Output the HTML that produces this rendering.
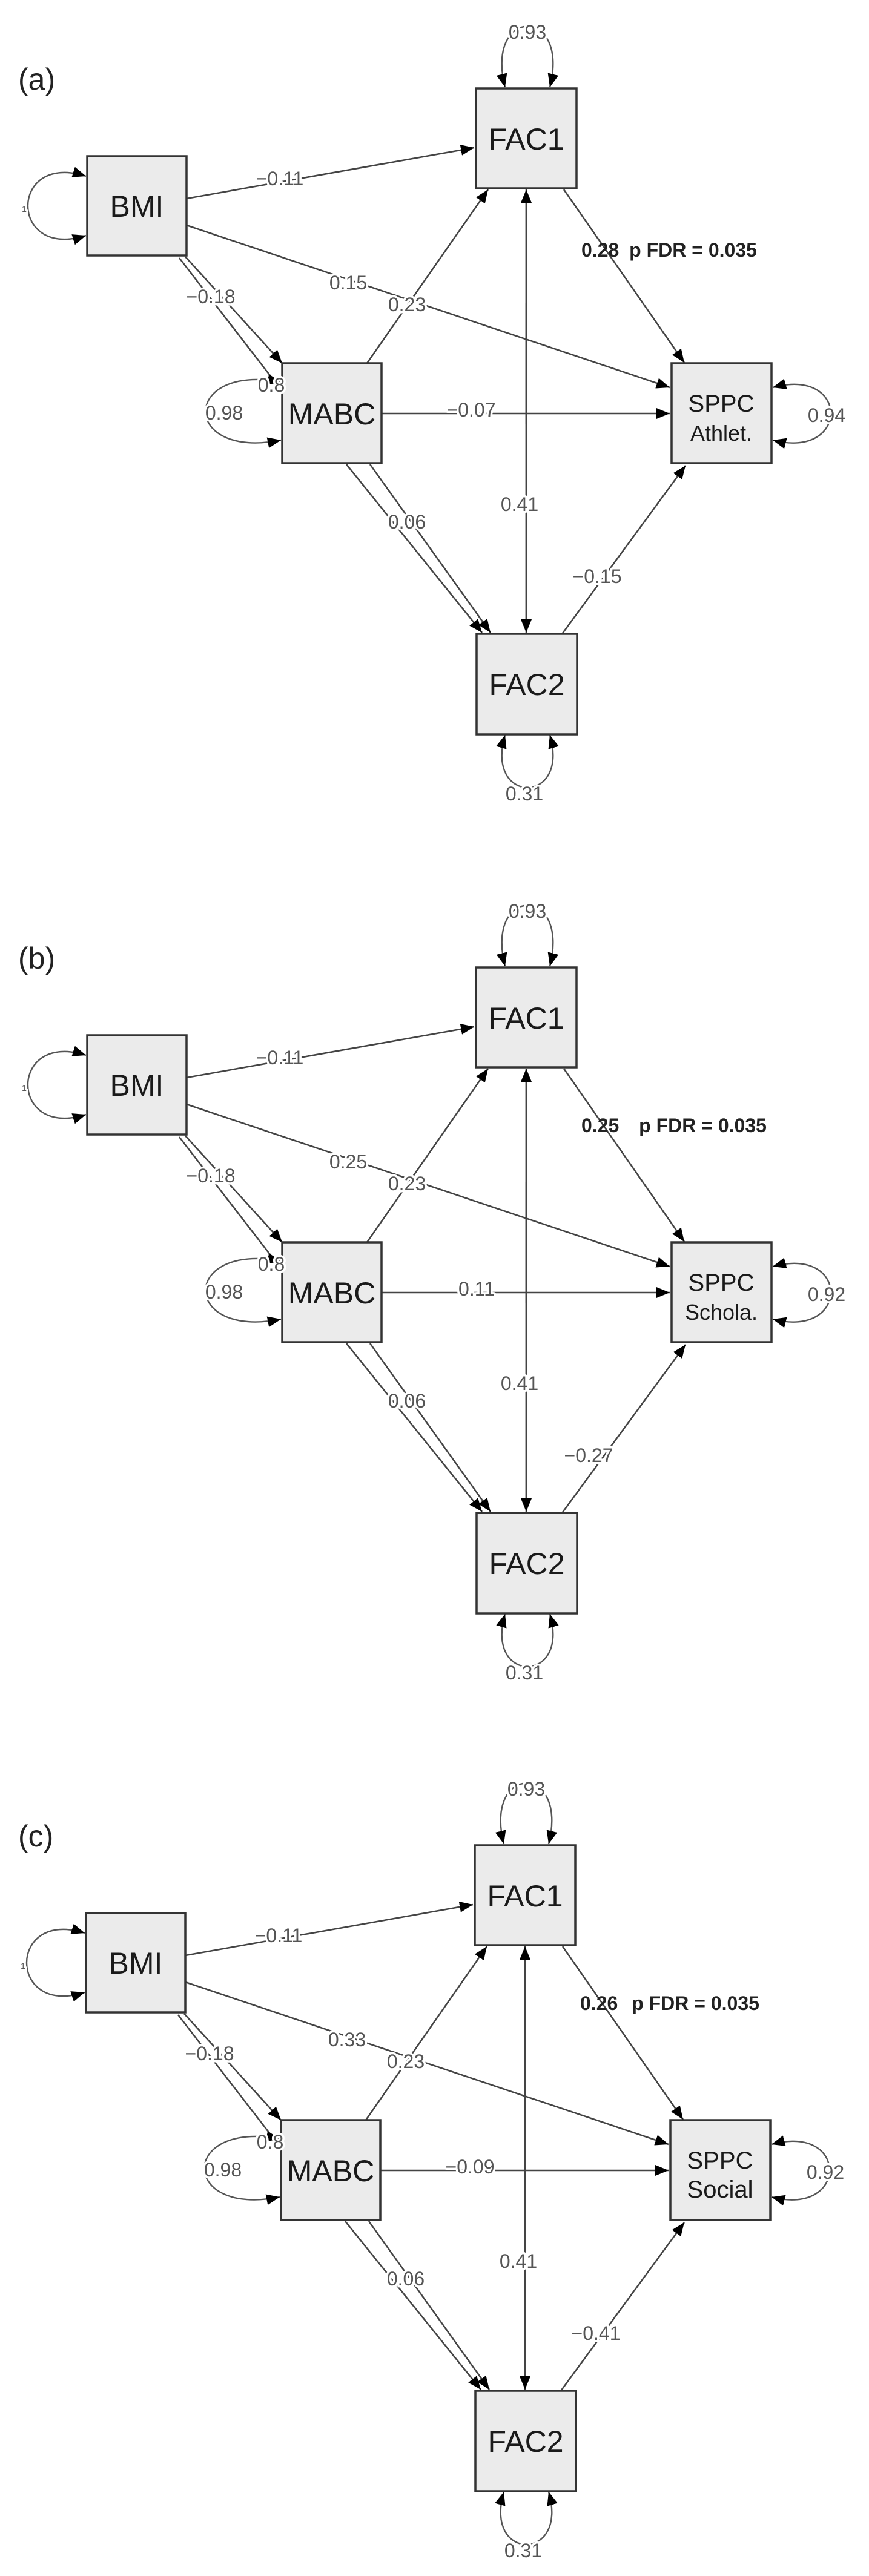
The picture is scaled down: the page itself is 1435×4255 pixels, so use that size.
<!DOCTYPE html>
<html><head><meta charset="utf-8"><style>
html,body{margin:0;padding:0;background:#fff;}
svg{display:block;}
.bx{fill:#ebebeb;stroke:#333;stroke-width:3.5;}
.ln{fill:none;stroke:#444;stroke-width:2.6;}
.ar{marker-end:url(#ah);}
.lp{fill:none;stroke:#555;stroke-width:2.4;marker-start:url(#ah2);marker-end:url(#ah);}
.nl{font-family:"Liberation Sans",Arial,sans-serif;font-size:50px;fill:#1a1a1a;text-anchor:middle;}
.nl2{font-family:"Liberation Sans",Arial,sans-serif;font-size:40px;fill:#1a1a1a;text-anchor:middle;}
.el{font-family:"Liberation Sans",Arial,sans-serif;font-size:32px;fill:#555;text-anchor:middle;stroke:#fff;stroke-width:7px;paint-order:stroke;stroke-linejoin:round;}
.bd{font-family:"Liberation Sans",Arial,sans-serif;font-size:32px;font-weight:bold;fill:#222;}
.pl{font-family:"Liberation Sans",Arial,sans-serif;font-size:50px;fill:#222;}
</style></head><body>
<svg width="1435" height="4255" viewBox="0 0 1435 4255" xmlns="http://www.w3.org/2000/svg">
<defs>
<marker id="ah" markerUnits="userSpaceOnUse" markerWidth="24" markerHeight="20" refX="22" refY="10" orient="auto"><path d="M0,1 L22,10 L0,19 Z" fill="#000"/></marker>
<marker id="ah2" markerUnits="userSpaceOnUse" markerWidth="24" markerHeight="20" refX="22" refY="10" orient="auto-start-reverse"><path d="M0,1 L22,10 L0,19 Z" fill="#000"/></marker>
<g id="base">
<!-- edges -->
<line class="ln ar" x1="308" y1="328" x2="783" y2="244"/>
<line class="ln ar" x1="308" y1="372" x2="1106" y2="640"/>
<line class="ln" x1="296" y1="426" x2="452" y2="628"/>
<line class="ln ar" x1="306" y1="424" x2="466" y2="600"/>
<line class="ln ar" x1="606" y1="600" x2="806" y2="313"/>
<line class="ln ar" x1="630" y1="683" x2="1106" y2="683"/>
<line class="ln ar" x1="572" y1="767" x2="796" y2="1045"/>
<line class="ln ar" x1="611" y1="767" x2="810" y2="1045"/>
<line class="ln" x1="869" y1="330" x2="869" y2="1025" />
<line class="ln ar" x1="869" y1="500" x2="869" y2="1045"/>
<line class="ln ar" x1="869" y1="700" x2="869" y2="313"/>
<line class="ln ar" x1="931" y1="313" x2="1130" y2="599"/>
<line class="ln ar" x1="929" y1="1046" x2="1132" y2="769"/>
<!-- loops -->
<path class="lp" d="M142,291 C14,250 14,430 142,389"/>
<path class="lp" d="M464,631 C298,600 298,760 464,727"/>
<path class="lp" d="M1276,640 C1404,605 1404,760 1276,727"/>
<path class="lp" d="M834,144 C800,10 942,10 908,144"/>
<path class="lp" d="M834,1214 C800,1330 942,1330 908,1214"/>
<!-- boxes -->
<rect class="bx" x="144" y="258" width="164" height="164"/>
<rect class="bx" x="786" y="146" width="166" height="165"/>
<rect class="bx" x="466" y="600" width="164" height="165"/>
<rect class="bx" x="1109" y="600" width="165" height="165"/>
<rect class="bx" x="787" y="1047" width="166" height="166"/>
<text class="nl" x="226" y="358">BMI</text>
<text class="nl" x="869" y="247">FAC1</text>
<text class="nl" x="548" y="701">MABC</text>
<text class="nl" x="870" y="1148">FAC2</text>
<!-- common labels -->
<text class="el" x="462" y="306">−0.11</text>
<text class="el" x="348" y="501">−0.18</text>
<text class="el" x="672" y="514">0.23</text>
<text class="el" x="448" y="647">0.8</text>
<text class="el" x="370" y="693">0.98</text>
<text class="el" x="672" y="873">0.06</text>
<text class="el" x="858" y="844">0.41</text>
<text class="el" x="871" y="64">0.93</text>
<text class="el" x="866" y="1322">0.31</text>
<text class="el" x="40" y="350" style="font-size:14px">1</text>
</g>
</defs>

<!-- panel a -->
<text class="pl" x="30" y="148">(a)</text>
<use href="#base"/>
<g>
<rect x="1109" y="600" width="0" height="0"/>
<text class="el" x="575" y="478">0.15</text>
<text class="el" x="778" y="688">−0.07</text>
<text class="el" x="986" y="963">−0.15</text>
<text class="el" x="1365" y="697">0.94</text>
<text class="nl2" x="1191" y="680">SPPC</text>
<text class="nl2" x="1191" y="728" style="font-size:36px">Athlet.</text>
<text class="bd" x="960" y="424">0.28 <tspan dx="8">p FDR = 0.035</tspan></text>
</g>

<!-- panel b -->
<g transform="translate(0,1452)">
<text class="pl" x="30" y="148">(b)</text>
<use href="#base"/>
<text class="el" x="575" y="478">0.25</text>
<text class="el" x="787" y="688">0.11</text>
<text class="el" x="972" y="963">−0.27</text>
<text class="el" x="1365" y="697">0.92</text>
<text class="nl2" x="1191" y="680">SPPC</text>
<text class="nl2" x="1191" y="728" style="font-size:36px">Schola.</text>
<text class="bd" x="960" y="418">0.25 <tspan dx="24">p FDR = 0.035</tspan></text>
</g>

<!-- panel c -->
<g transform="translate(-2,2902)">
<text class="pl" x="32" y="148">(c)</text>
<use href="#base"/>
<text class="el" x="575" y="478">0.33</text>
<text class="el" x="778" y="688">−0.09</text>
<text class="el" x="986" y="963">−0.41</text>
<text class="el" x="1365" y="697">0.92</text>
<text class="nl2" x="1191" y="680">SPPC</text>
<text class="nl2" x="1191" y="728">Social</text>
<text class="bd" x="960" y="418">0.26 <tspan dx="14">p FDR = 0.035</tspan></text>
</g>
</svg>
</body></html>
